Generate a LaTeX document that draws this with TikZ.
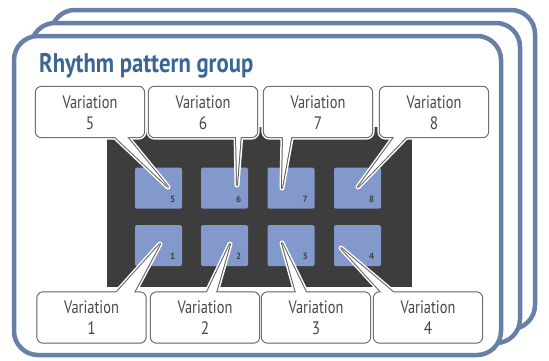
\documentclass[tikz,border=0pt]{standalone}
\usepackage{fontspec}
\setmainfont{PT Sans}
\usetikzlibrary{calc}
\definecolor{cardline}{RGB}{104,128,168}
\definecolor{titleblue}{RGB}{58,102,150}
\definecolor{darkbg}{RGB}{60,61,60}
\definecolor{padfill}{RGB}{131,153,203}
\definecolor{boxline}{RGB}{95,95,95}
\definecolor{labtext}{RGB}{72,72,72}
\definecolor{numtext}{RGB}{64,64,64}
\newcommand{\vlab}[1]{\scalebox{0.8}[1]{Variation}\\\scalebox{0.85}[1]{#1}}
\begin{document}
\begin{tikzpicture}[x=1pt,y=-1pt,
  card/.style={draw=cardline,line width=4.5pt,fill=white,rounded corners=24pt},
  pad/.style={fill=padfill,rounded corners=1.5pt,minimum width=47pt,minimum height=41pt,inner sep=0pt},
  padnum/.style={font=\bfseries\fontsize{9}{9}\selectfont,text=numtext,inner sep=0pt},
  cbox/.style={minimum width=108pt,minimum height=50pt,inner sep=0pt},
  halo/.style={draw=white,line width=5pt,line join=round},
  edge/.style={draw=boxline,line width=2pt,line join=round},
  inner/.style={fill=white},
  vtext/.style={align=center,font=\fontsize{18}{21}\selectfont,text=labtext,inner sep=0pt}]
\useasboundingbox (0,0) rectangle (549,360);
% stacked cards
\draw[card] (51,10) rectangle (535,329);
\draw[card] (31,23) rectangle (520,343);
\draw[card] (14,36) rectangle (501,355);
% title
\node[anchor=base west,inner sep=0pt,text=titleblue,font=\bfseries\fontsize{27}{27}\selectfont] (title) at (39,72) {\scalebox{0.84}[1]{Rhythm pattern group}};
% pad area
\node[fill=darkbg,minimum width=305pt,minimum height=160pt,inner sep=0pt] (panel) at (259.5,207) {};
% pads
\foreach \i/\x/\y in {5/158.5/188,6/224.5/188,7/291/188,8/357.5/188,1/158.5/245.5,2/224.5/245.5,3/291/245.5,4/357.5/245.5}{
  \node[pad] (p\i) at (\x,\y) {};
  \node[padnum] (n\i) at ($(p\i.south east)+(-9.5,-9.5)$) {\i};
}
% pointer tips
\coordinate (t5) at (168,187);
\coordinate (t6) at (237,185);
\coordinate (t7) at (282,188);
\coordinate (t8) at (358,187);
\coordinate (t1) at (160,244);
\coordinate (t2) at (230,244);
\coordinate (t3) at (282,243);
\coordinate (t4) at (341,248);
% callout boxes
\foreach \i/\x/\y in {5/90/112,6/203/112,7/318/112,8/434/112,1/91.5/317.5,2/205/317.5,3/316/317.5,4/428/317.5}{
  \node[cbox] (b\i) at (\x,\y) {};
}
\foreach \i/\a/\b in {5/21/34,6/33/38,7/-35/-26,8/-37/-24}{
  \coordinate (u\i) at ($(b\i.south)+(\a,-4)$);
  \coordinate (v\i) at ($(b\i.south)+(\b,-4)$);
}
\foreach \i/\a/\b in {1/21.5/40.5,2/0/10,3/-19/-8,4/-43/-30}{
  \coordinate (u\i) at ($(b\i.north)+(\a,4)$);
  \coordinate (v\i) at ($(b\i.north)+(\b,4)$);
}
\foreach \i in {1,...,8}{
  \path[halo,rounded corners=6pt] (b\i.north west) rectangle (b\i.south east);
  \path[halo] (t\i) -- (u\i) -- (v\i) -- cycle;
}
\foreach \i in {1,...,8}{
  \path[edge,rounded corners=6pt] (b\i.north west) rectangle (b\i.south east);
  \path[edge] (t\i) -- (u\i) -- (v\i) -- cycle;
}
\foreach \i in {1,...,8}{
  \path[inner,rounded corners=6pt] (b\i.north west) rectangle (b\i.south east);
  \path[inner] (t\i) -- (u\i) -- (v\i) -- cycle;
}
\foreach \i in {1,...,8}{
  \node[vtext] (l\i) at ($(b\i.center)+(0,0.5)$) {\vlab{\i}};
}
\end{tikzpicture}
\end{document}
